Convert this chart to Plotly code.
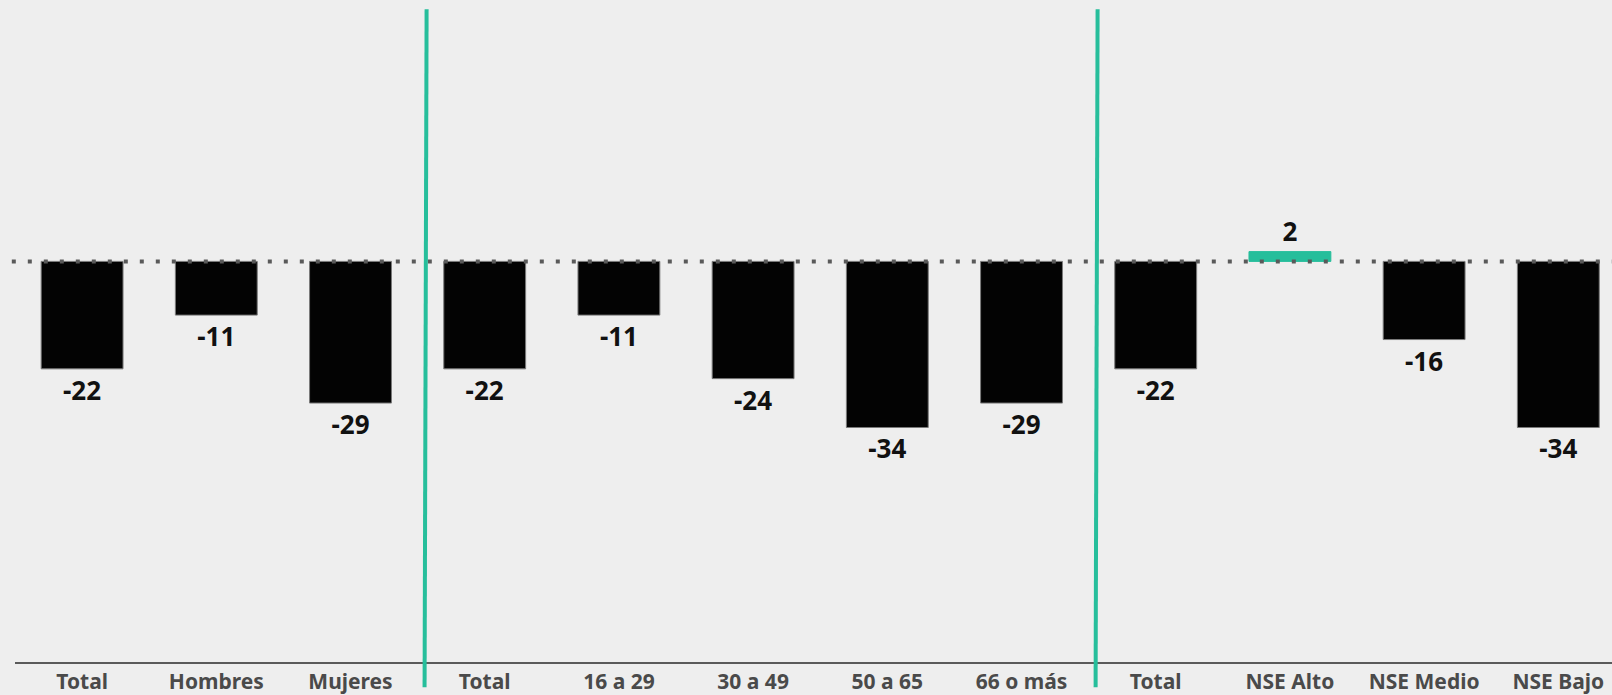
import plotly.graph_objects as go

# categories and values
labels = ["Total", "Hombres", "Mujeres",
          "Total", "16 a 29", "30 a 49", "50 a 65", "66 o más",
          "Total", "NSE Alto", "NSE Medio", "NSE Bajo"]
values = [-22, -11, -29, -22, -11, -24, -34, -29, -22, 2, -16, -34]

positions = list(range(len(labels)))
teal = "#26be9b"
bar_colors = [teal if v > 0 else "#030303" for v in values]
line_colors = [teal if v > 0 else "#7a7a7a" for v in values]

fig = go.Figure()
fig.add_trace(go.Bar(
    x=positions,
    y=values,
    marker=dict(color=bar_colors, line=dict(color=line_colors, width=1)),
    text=[str(v) for v in values],
    textposition="outside",
    textfont=dict(family="Noto Sans", size=26, color="#111111", weight="bold"),
    cliponaxis=False,
    width=0.61,
    hoverinfo="x+y",
))

shapes = []
# dotted zero line
shapes.append(dict(type="line", xref="paper", yref="y", x0=-0.002, x1=1.0, y0=0, y1=0,
                   line=dict(color="#5a5a5a", width=4, dash="4px,12px"), layer="above"))
# separators between groups
for sep in [2.56, 7.56]:
    shapes.append(dict(type="line", xref="x", yref="paper",
                       x0=sep + 0.007, x1=sep - 0.008, y0=0.986, y1=-0.038,
                       line=dict(color=teal, width=4), layer="above"))

fig.update_layout(
    width=1612, height=695,
    paper_bgcolor="#eeeeee", plot_bgcolor="#eeeeee",
    margin=dict(l=15, r=0, t=0, b=31),
    showlegend=False,
    shapes=shapes,
    xaxis=dict(range=[-0.5, 11.4], tickvals=positions, ticktext=labels,
               showgrid=False, zeroline=False, showline=True, linecolor="#5a5a5a",
               linewidth=2, ticks="", ticklen=0,
               tickfont=dict(family="Noto Sans", size=21, color="#4a4a4a", weight="bold")),
    yaxis=dict(range=[-82, 53.5], visible=False, showgrid=False, zeroline=False),
)

fig.write_html("out.html", config={"displayModeBar": False},
               post_script="document.body.style.margin='0';")
